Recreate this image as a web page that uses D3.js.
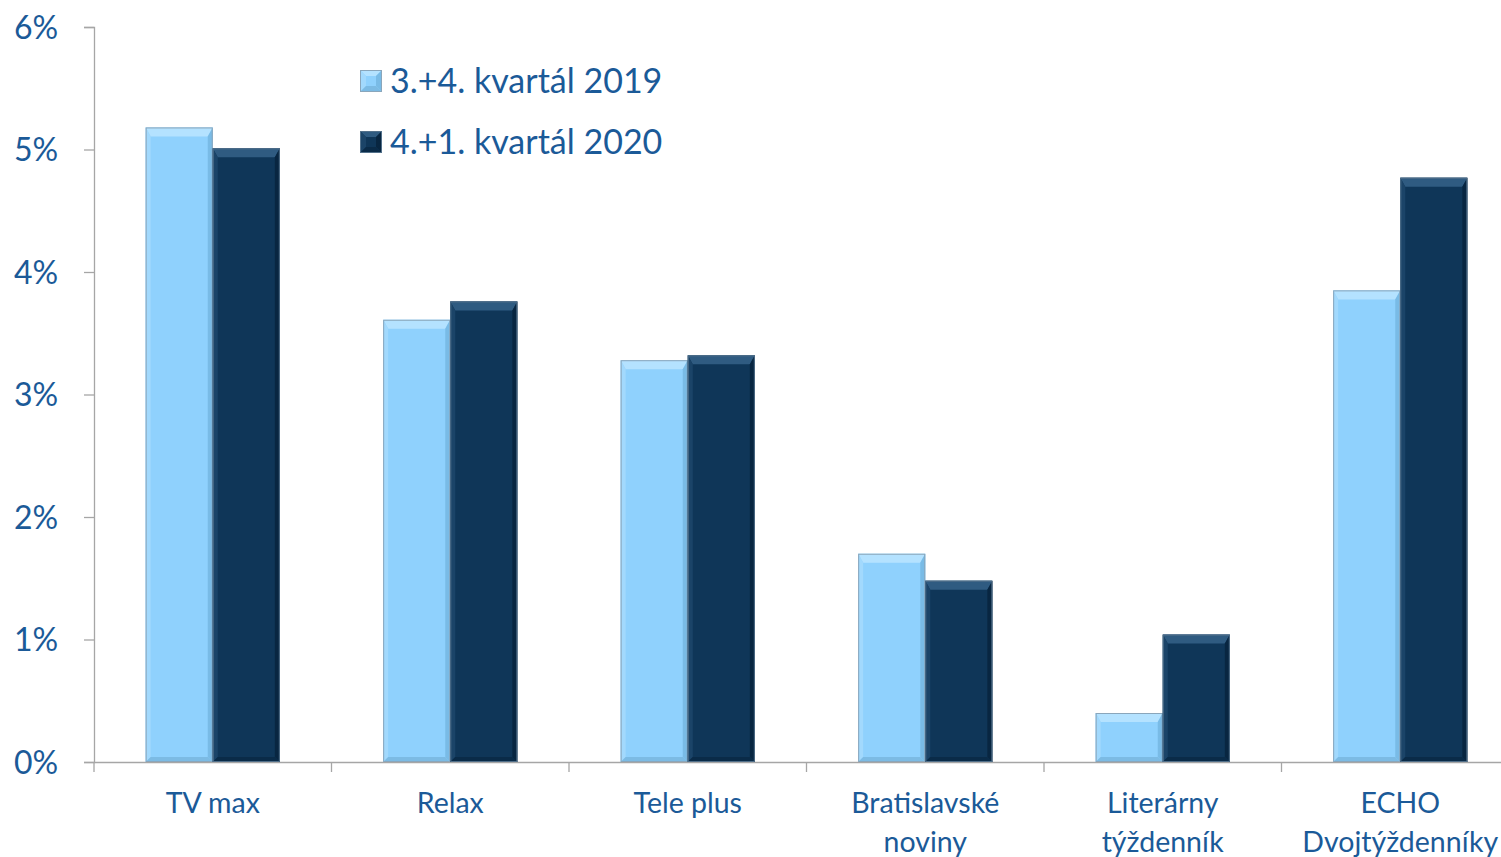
<!DOCTYPE html>
<html>
<head>
<meta charset="utf-8">
<script src="https://cdn.jsdelivr.net/npm/d3@7"></script>
<style>
  html, body { margin: 0; padding: 0; background: #fff; }
  svg text { font-family: Lato, "Open Sans", sans-serif; fill: #1b5a98; }
</style>
</head>
<body>
<div id="chart"></div>
<script>
'use strict';

var categories = [['TV max'], ['Relax'], ['Tele plus'], ['Bratislavské', 'noviny'], ['Literárny', 'týždenník'], ['ECHO', 'Dvojtýždenníky']];
var seriesNames = ['3.+4. kvartál 2019', '4.+1. kvartál 2020'];
var values2019 = [0.0518, 0.0361, 0.0328, 0.0170, 0.0040, 0.0385];
var values2020 = [0.0501, 0.0376, 0.0332, 0.0148, 0.0104, 0.0477];
var yTicks = [0, 0.01, 0.02, 0.03, 0.04, 0.05, 0.06];

var palette = [
  { main: '#8fd1fd', top: '#b4e2ff', left: '#a2d9fd', right: '#79bbe6', bottom: '#7cbbe4', edge: '#8aa6bb' },
  { main: '#0f3658', top: '#2f5b81', left: '#1b4468', right: '#082641', bottom: '#0a2b48', edge: '#52708a' }
];

function makeBevelBarChart(containerSelector) {
  var width = 1501;
  var height = 857;
  var left = 94, right = 1519, top = 27, bottom = 762;

  var svg = d3.select(containerSelector).append('svg')
    .attr('width', width)
    .attr('height', height);

  var keys = categories.map(function(c) { return c.join(' '); });

  var x0 = d3.scaleBand().domain(keys).range([left, right]);
  var x1 = d3.scaleBand().domain([0, 1]).range([0, x0.bandwidth()]).paddingOuter(0.77);
  var y = d3.scaleLinear().domain([0, 0.06]).range([bottom, top]);

  // axes
  var yAxis = d3.axisLeft(y).tickValues(yTicks).tickSize(10)
    .tickFormat(d3.format('.0%'));
  var gy = svg.append('g').attr('transform', 'translate(' + left + ',0)').call(yAxis);
  gy.select('.domain').attr('stroke', '#a6a6a6').attr('stroke-width', 1.3);
  gy.selectAll('.tick line').attr('stroke', '#a6a6a6').attr('stroke-width', 1.3);
  gy.selectAll('.tick text')
    .style('font-size', '32px')
    .attr('fill', '#1b5a98')
    .attr('text-anchor', 'start')
    .attr('x', -80)
    .attr('dy', '0.35em');

  var xAxis = d3.axisBottom(x0).tickValues([]).tickSizeOuter(0);
  var gx = svg.append('g').attr('transform', 'translate(0,' + bottom + ')').call(xAxis);
  gx.select('.domain').attr('stroke', '#a6a6a6').attr('stroke-width', 1.3);
  // category separator ticks
  gx.selectAll('.sep')
    .data(keys)
    .enter().append('line')
    .attr('class', 'sep')
    .attr('x1', function(d) { return x0(d); })
    .attr('x2', function(d) { return x0(d); })
    .attr('y1', 0)
    .attr('y2', 10)
    .attr('stroke', '#a6a6a6')
    .attr('stroke-width', 1.3);

  var labels = svg.selectAll('.xlabel')
    .data(categories)
    .enter().append('text')
    .attr('class', 'xlabel')
    .attr('text-anchor', 'middle')
    .style('font-size', '28.5px');
  labels.selectAll('tspan')
    .data(function(d, i) { return d.map(function(line, j) { return { line: line, j: j, key: keys[i] }; }); })
    .enter().append('tspan')
    .attr('x', function(d) { return x0(d.key) + x0.bandwidth() / 2; })
    .attr('y', function(d) { return 813 + d.j * 39; })
    .text(function(d) { return d.line; });

  // bars with bevel
  var rows = [];
  keys.forEach(function(k, i) {
    rows.push({ key: k, s: 0, v: values2019[i] });
    rows.push({ key: k, s: 1, v: values2020[i] });
  });

  var bars = svg.selectAll('.bar')
    .data(rows)
    .enter().append('g')
    .attr('class', 'bar');

  bars.each(function(d) {
    var g = d3.select(this);
    var c = palette[d.s];
    var bx = x0(d.key) + x1(d.s);
    var bw = x1.bandwidth();
    var by = y(d.v);
    var bh = y(0) - by;
    drawBevel(g, bx, by, bw, bh, c, 9, 5);
  });

  // legend
  var legend = svg.selectAll('.legend')
    .data(seriesNames)
    .enter().append('g')
    .attr('class', 'legend')
    .attr('transform', function(d, i) { return 'translate(360,' + (70 + i * 61) + ')'; });

  legend.each(function(d, i) {
    drawBevel(d3.select(this), 0, 0, 22, 22, palette[i], 6, 6);
  });

  legend.append('text')
    .attr('x', 30)
    .attr('y', 11)
    .attr('dy', '0.36em')
    .style('font-size', '34px')
    .text(function(d) { return d; });
}

function drawBevel(g, bx, by, bw, bh, c, tb, sb) {
  var bb = Math.min(sb, bh / 2);
  var t = Math.min(tb, bh / 2);
  g.append('rect')
    .attr('x', bx).attr('y', by).attr('width', bw).attr('height', bh)
    .attr('fill', c.main);
  function poly(pts, fill) {
    g.append('polygon')
      .attr('points', pts.map(function(p) { return p.join(','); }).join(' '))
      .attr('fill', fill);
  }
  poly([[bx, by], [bx + bw, by], [bx + bw - sb, by + t], [bx + sb, by + t]], c.top);
  poly([[bx, by], [bx + sb, by + t], [bx + sb, by + bh - bb], [bx, by + bh]], c.left);
  poly([[bx + bw, by], [bx + bw - sb, by + t], [bx + bw - sb, by + bh - bb], [bx + bw, by + bh]], c.right);
  poly([[bx, by + bh], [bx + sb, by + bh - bb], [bx + bw - sb, by + bh - bb], [bx + bw, by + bh]], c.bottom);
  g.append('rect')
    .attr('x', bx + 0.5).attr('y', by + 0.5).attr('width', bw - 1).attr('height', bh - 1)
    .attr('fill', 'none')
    .attr('stroke', c.edge)
    .attr('stroke-width', 1);
}

makeBevelBarChart('#chart');
</script>
</body>
</html>
